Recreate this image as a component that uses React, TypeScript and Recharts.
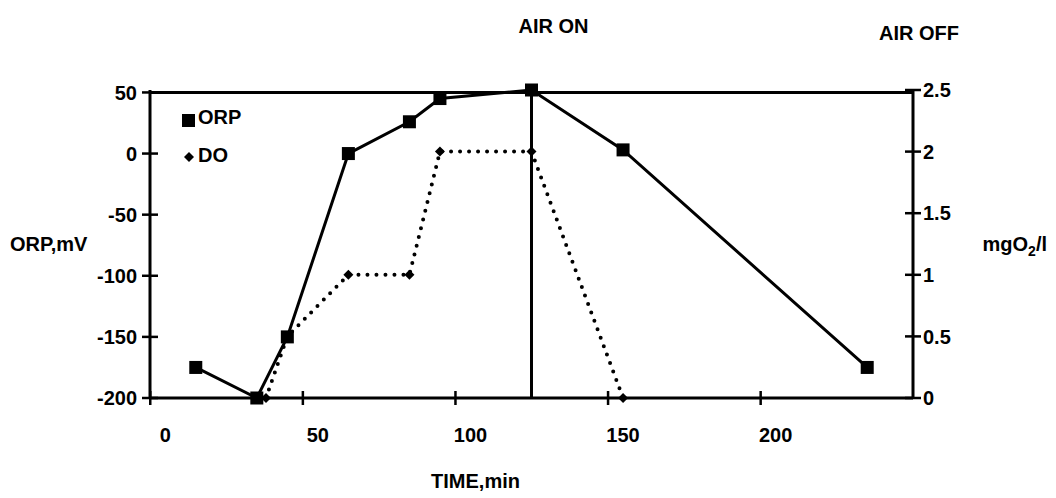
import React from 'react';
import { LineChart, Line, XAxis, YAxis, ReferenceLine, Legend } from 'recharts';

// ORP (mV, left axis) and dissolved oxygen (mgO2/l, right axis) against time
const orpTime = [10, 30, 40, 60, 80, 90, 120, 150, 230];
const orpMv = [-175, -200, -150, 0, 26, 45, 52, 3, -175];
const doTime = [33, 40, 60, 80, 90, 120, 150];
const doMg = [0, 0.5, 1, 1, 2, 2, 0];

const timeTicks = [0, 50, 100, 150, 200];
const orpTicks = [-200, -150, -100, -50, 0, 50];
const doTicks = [0, 0.5, 1, 1.5, 2, 2.5];
const legendOrder = ['ORP', 'DO'];
const airOnTime = 120;
const airOffTime = 245;

const orpData = orpTime.map((t, i) => ({ t, orp: orpMv[i] }));
const doData = doTime.map((t, i) => ({ t, dox: doMg[i] }));

const FONT = '"Liberation Sans", Arial, Helvetica, sans-serif';
const textStyle = { fontFamily: FONT, fontWeight: 700, fontSize: 20, fill: '#000' };

// in the scan the time labels sit a bit to the right of their tick marks
function TimeTick({ x, y, payload }: any) {
  const axisY = y - 30;
  return (
    <g>
      <line x1={x - 15} x2={x - 15} y1={axisY - 7} y2={axisY + 7} stroke="#000" strokeWidth={2.5} />
      <text x={x} y={y} dy="0.71em" textAnchor="middle" style={textStyle}>
        {payload.value}
      </text>
    </g>
  );
}

function OrpTick({ x, y, payload }: any) {
  const axisX = x + 13;
  return (
    <g>
      <line x1={axisX - 8} x2={axisX + 8} y1={y} y2={y} stroke="#000" strokeWidth={2.5} />
      <text x={x} y={y} dy="0.355em" textAnchor="end" style={textStyle}>
        {payload.value}
      </text>
    </g>
  );
}

function DoTick({ x, y, payload }: any) {
  const axisX = x - 10;
  return (
    <g>
      <line x1={axisX - 8} x2={axisX + 8} y1={y} y2={y} stroke="#000" strokeWidth={2.5} />
      <text x={x} y={y} dy="0.355em" textAnchor="start" style={textStyle}>
        {payload.value}
      </text>
    </g>
  );
}

function SquareDot({ cx, cy }: any) {
  if (cx == null || cy == null) return null;
  return <rect x={cx - 6.5} y={cy - 6.5} width={13} height={13} fill="#000" />;
}

function DiamondDot({ cx, cy }: any) {
  if (cx == null || cy == null) return null;
  const r = 5;
  return <polygon points={`${cx},${cy - r} ${cx + r},${cy} ${cx},${cy + r} ${cx - r},${cy}`} fill="#000" />;
}

function LegendBox({ payload }: any) {
  const items = [...(payload || [])].sort(
    (a: any, b: any) => legendOrder.indexOf(a.value) - legendOrder.indexOf(b.value)
  );
  return (
    <div style={{ fontFamily: FONT, fontWeight: 700, fontSize: 20, color: '#000' }}>
      {items.map((p: any) => (
        <div key={p.value} style={{ display: 'flex', alignItems: 'center', height: 38 }}>
          <svg width={18} height={20} style={{ marginTop: p.value === 'ORP' ? 8 : 4 }}>
            {p.value === 'ORP' ? (
              <rect x={2} y={3} width={13} height={13} fill="#000" />
            ) : (
              <polygon points="9,5 14,10 9,15 4,10" fill="#000" />
            )}
          </svg>
          <span>{p.value}</span>
        </div>
      ))}
    </div>
  );
}

const airLabel = (text: string, dx: number, lift: number) => ({ viewBox }: any) =>
  viewBox ? (
    <text x={viewBox.x + dx} y={viewBox.y - lift} textAnchor="middle" style={textStyle}>
      {text}
    </text>
  ) : null;

const timeLabel = ({ viewBox }: any) =>
  viewBox ? (
    <text x={viewBox.x + viewBox.width / 2 - 56} y={viewBox.y + viewBox.height - 10} textAnchor="middle" style={textStyle}>
      TIME,min
    </text>
  ) : null;

const orpLabel = ({ viewBox }: any) =>
  viewBox ? (
    <text x={viewBox.x + 10} y={viewBox.y + viewBox.height / 2} dy="0.35em" textAnchor="start" style={textStyle}>
      ORP,mV
    </text>
  ) : null;

const doLabel = ({ viewBox }: any) =>
  viewBox ? (
    <text x={viewBox.x + viewBox.width - 9} y={viewBox.y + viewBox.height / 2} dy="0.35em" textAnchor="end" style={textStyle}>
      mgO
      <tspan fontSize={14} dy={5}>
        2
      </tspan>
      <tspan dy={-5}>/l</tspan>
    </text>
  ) : null;

export default function App() {
  const axisLine = { stroke: '#000', strokeWidth: 3 };
  return (
    <div style={{ position: 'absolute', left: 0, top: 0, width: 1056, height: 498, background: '#fff' }}>
      <LineChart width={1056} height={498} margin={{ top: 90, right: 0, bottom: 0, left: 0 }}>
        <XAxis
          dataKey="t"
          type="number"
          domain={[-5, 245]}
          ticks={timeTicks}
          tick={<TimeTick />}
          tickLine={false}
          tickSize={8}
          tickMargin={22}
          axisLine={axisLine}
          height={100}
          allowDuplicatedCategory={false}
          label={timeLabel}
        />
        <YAxis
          yAxisId="orp"
          domain={[-200, 50]}
          ticks={orpTicks}
          tick={<OrpTick />}
          tickLine={false}
          tickSize={8}
          tickMargin={5}
          axisLine={axisLine}
          width={150}
          label={orpLabel}
        />
        <YAxis
          yAxisId="do"
          orientation="right"
          domain={[0, 2.5]}
          ticks={doTicks}
          tick={<DoTick />}
          tickLine={false}
          tickSize={8}
          tickMargin={2}
          axisLine={axisLine}
          width={143}
          label={doLabel}
        />
        <ReferenceLine yAxisId="orp" y={50} stroke="#000" strokeWidth={3} />
        <ReferenceLine yAxisId="orp" x={airOnTime} stroke="#000" strokeWidth={3} label={airLabel('AIR ON', 22, 57)} />
        <ReferenceLine yAxisId="orp" x={airOffTime} stroke="none" label={airLabel('AIR OFF', 6, 50)} />
        <Legend
          layout="vertical"
          align="center"
          verticalAlign="middle"
          wrapperStyle={{ left: 180, top: 98, width: 'auto' }}
          content={<LegendBox />}
        />
        <Line
          yAxisId="do"
          data={doData}
          dataKey="dox"
          name="DO"
          stroke="#000"
          strokeWidth={4}
          strokeDasharray="0 9"
          strokeLinecap="round"
          dot={<DiamondDot />}
          activeDot={false}
          legendType="diamond"
          isAnimationActive={false}
        />
        <Line
          yAxisId="orp"
          data={orpData}
          dataKey="orp"
          name="ORP"
          stroke="#000"
          strokeWidth={3}
          dot={<SquareDot />}
          activeDot={false}
          legendType="square"
          isAnimationActive={false}
        />
      </LineChart>
    </div>
  );
}
